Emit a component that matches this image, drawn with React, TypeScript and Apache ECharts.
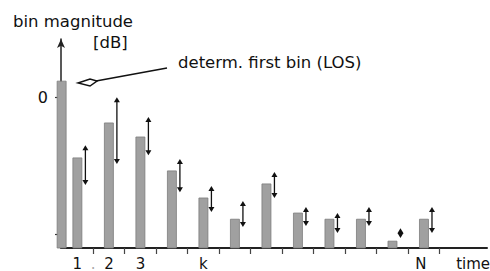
import React, { useEffect, useRef } from "react";
import * as echarts from "echarts";

// bin positions on the time axis (bin 0 = first, LOS bin)
const binPositions = [0.5, 1, 2, 3, 4, 5, 6, 7, 8, 9, 10, 11, 12];
// bin magnitudes [dB]
const binMagnitudes = [4.7, -17.7, -7.5, -11.6, -21.5, -29.4, -35.6, -25.3, -33.8, -35.6, -35.6, -42.0, -35.6];
// variation ranges (double arrows) for bins 1..N
const arrowBins = [1, 2, 3, 4, 5, 6, 7, 8, 9, 10, 11, 12];
const arrowTops = [-14.0, 0, -5.8, -18.0, -25.9, -30.3, -21.8, -32.0, -33.8, -32.0, -38.2, -32.0];
const arrowBottoms = [-25.6, -19.5, -16.9, -27.7, -33.5, -37.9, -29.4, -37.6, -39.6, -37.6, -41.1, -39.6];

const xTickValues = [1.5, 2.5, 3.5, 4.5, 5.5, 6.5, 7.5, 8.5, 9.5, 10.5, 11.5, 12.5];
const xLabelValues = [1, 1.5, 2, 3, 5, 11.9, 13.56];
const xLabelTexts = ["1", ".", "2", "3", "k", "N", "time"];
const yTickValues = [0, -40];
const yLabelValues = [0];

const Y_MIN = -44;
const Y_MAX = 17;
const FONT = "DejaVu Sans, sans-serif";

export default function App() {
  const ref = useRef<HTMLDivElement>(null);
  useEffect(() => {
    if (!ref.current) return;
    const chart = echarts.init(ref.current, null, { renderer: "svg" });
    const barData = binPositions.map((x, i) => [x, binMagnitudes[i]]);
    const arrowData = arrowBins.map((x, i) => [x, arrowTops[i], arrowBottoms[i]]);
    chart.setOption({
      animation: false,
      backgroundColor: "#ffffff",
      textStyle: { fontFamily: FONT },
      grid: { left: 61, right: 3, top: 39, bottom: 23, containLabel: false, outerBoundsMode: "none" },
      xAxis: {
        type: "value",
        min: 0.48,
        max: 14,
        splitLine: { show: false },
        axisLine: { show: true, onZero: false, lineStyle: { color: "#222", width: 2 } },
        axisTick: {
          show: true,
          customValues: xTickValues,
          length: 6,
          lineStyle: { color: "#444", width: 1.2 },
        },
        axisLabel: {
          show: true,
          customValues: xLabelValues,
          fontSize: 15,
          color: "#111",
          fontFamily: FONT,
          margin: 8,
          formatter: (v: number) => {
            const i = xLabelValues.findIndex((x) => Math.abs(x - v) < 1e-6);
            if (i < 0) return "";
            const t = xLabelTexts[i];
            return t === "." ? "{d|.}" : t;
          },
          rich: { d: { color: "#aaa", fontSize: 15, fontFamily: FONT } },
        },
      },
      yAxis: {
        type: "value",
        min: Y_MIN,
        max: Y_MAX,
        splitLine: { show: false },
        axisLine: {
          show: true,
          onZero: false,
          symbol: ["none", "arrow"],
          symbolSize: [6, 9],
          lineStyle: { color: "#222", width: 1.5 },
        },
        axisTick: {
          show: true,
          customValues: yTickValues,
          length: 6,
          lineStyle: { color: "#333", width: 1.2 },
        },
        axisLabel: {
          show: true,
          customValues: yLabelValues,
          fontSize: 16,
          color: "#111",
          fontFamily: FONT,
          margin: 13,
        },
      },
      series: [
        {
          type: "custom",
          name: "bins",
          clip: false,
          data: barData,
          encode: { x: 0, y: 1 },
          renderItem: (params: any, api: any) => {
            const x = api.value(0);
            const v = api.value(1);
            const top = api.coord([x, v]);
            const base = api.coord([x, Y_MIN]);
            const w = 9;
            return {
              type: "rect",
              shape: { x: top[0] - w / 2, y: top[1], width: w, height: base[1] - top[1] },
              style: { fill: "#a0a0a0", stroke: "#7c7c7c", lineWidth: 0.8 },
            };
          },
        },
        {
          type: "custom",
          name: "variation",
          clip: false,
          data: arrowData,
          encode: { x: 0, y: [1, 2] },
          renderItem: (params: any, api: any) => {
            const x = api.value(0);
            const p1 = api.coord([x, api.value(1)]);
            const p2 = api.coord([x, api.value(2)]);
            const cx = p1[0] + 8;
            const h = 5;
            const hw = 3;
            return {
              type: "group",
              children: [
                {
                  type: "line",
                  shape: { x1: cx, y1: p1[1] + h - 1, x2: cx, y2: p2[1] - h + 1 },
                  style: { stroke: "#111", lineWidth: 1.3 },
                },
                {
                  type: "polygon",
                  shape: { points: [[cx, p1[1]], [cx - hw, p1[1] + h], [cx + hw, p1[1] + h]] },
                  style: { fill: "#111" },
                },
                {
                  type: "polygon",
                  shape: { points: [[cx, p2[1]], [cx - hw, p2[1] - h], [cx + hw, p2[1] - h]] },
                  style: { fill: "#111" },
                },
              ],
            };
          },
        },
      ],
      graphic: [
        {
          type: "text",
          left: 13,
          top: 13,
          style: { text: "bin magnitude", fontSize: 16.5, fill: "#111", fontFamily: FONT },
        },
        {
          type: "text",
          left: 93,
          top: 34,
          style: { text: "[dB]", fontSize: 16.5, fill: "#111", fontFamily: FONT },
        },
        {
          type: "text",
          left: 178,
          top: 54,
          style: { text: "determ. first bin (LOS)", fontSize: 16.5, fill: "#111", fontFamily: FONT },
        },
        {
          type: "line",
          shape: { x1: 167, y1: 68, x2: 96, y2: 81 },
          style: { stroke: "#111", lineWidth: 1.6 },
        },
        {
          type: "polygon",
          shape: { points: [[78, 83], [90, 79], [97, 81], [90, 86]] },
          style: { fill: "#fff", stroke: "#111", lineWidth: 1.5 },
        },
      ],
    });
    return () => chart.dispose();
  }, []);
  return (
    <div
      ref={ref}
      style={{ position: "fixed", left: 0, top: 0, width: 490, height: 271, background: "#fff" }}
    />
  );
}
